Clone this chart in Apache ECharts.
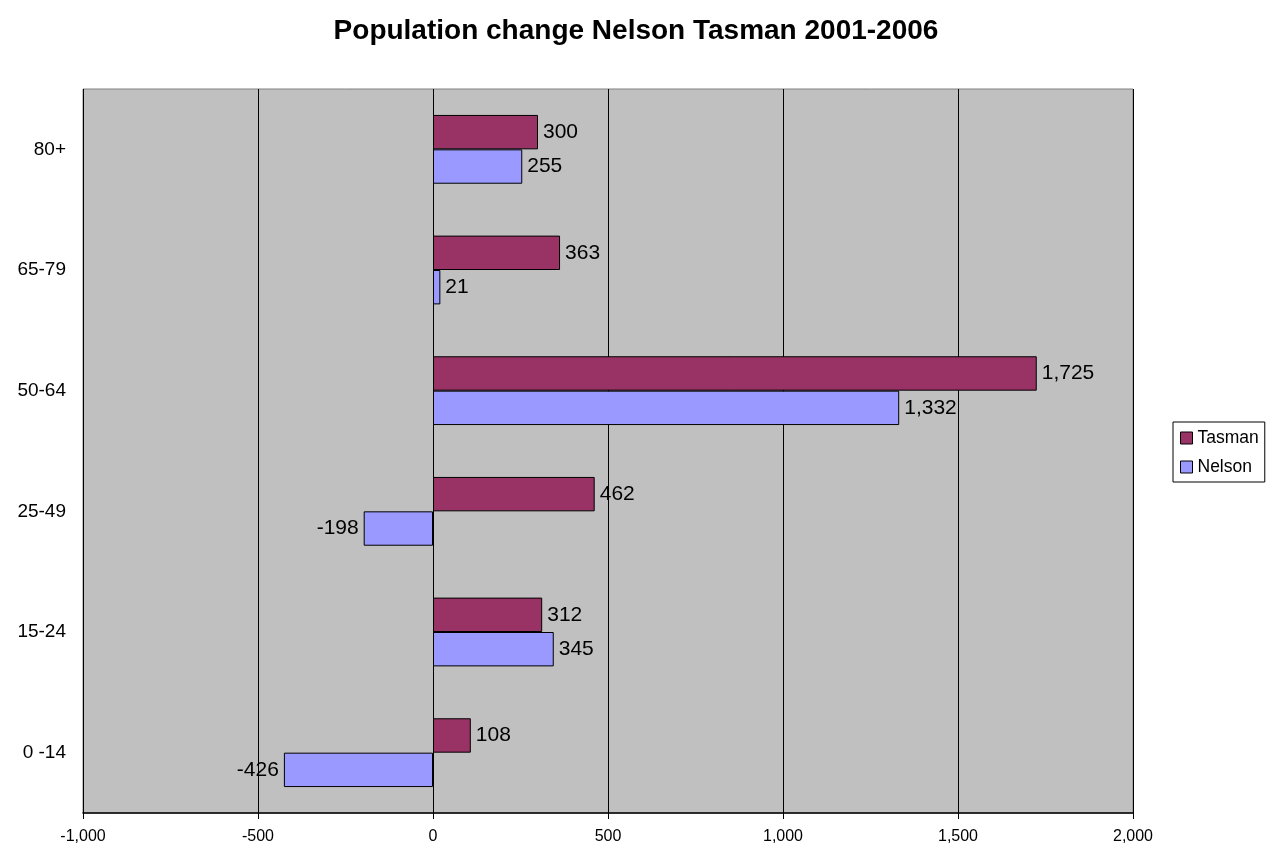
<!DOCTYPE html>
<html><head><meta charset="utf-8">
<script src="https://cdn.jsdelivr.net/npm/echarts@6/dist/echarts.min.js"></script>
<style>html,body{margin:0;padding:0;background:#fff}#c{width:1272px;height:851px}</style>
</head><body><div id="c"></div>
<script>
const categories = ['0 -14', '15-24', '25-49', '50-64', '65-79', '80+'];
const tasman = [108, 312, 462, 1725, 363, 300];
const nelson = [-426, 345, -198, 1332, 21, 255];
const xTicks = [-1000, -500, 0, 500, 1000, 1500, 2000];

const FONT = 'Liberation Sans, Arial, sans-serif';
const fmt = v => Number(v).toLocaleString('en-US');
const chart = echarts.init(document.getElementById('c'));
const labelCfg = {
  show: true,
  fontFamily: FONT,
  fontSize: 21,
  color: '#000',
  distance: 5,
  formatter: p => fmt(p.value)
};
function seriesData(arr) {
  return arr.map(v => ({ value: v, label: { position: v < 0 ? 'left' : 'right' } }));
}
chart.setOption({
  animation: false,
  textStyle: { fontFamily: FONT },
  title: {
    text: 'Population change Nelson Tasman 2001-2006',
    left: 'center', top: 12,
    textStyle: { fontSize: 28, fontWeight: 'bold', color: '#000', fontFamily: FONT }
  },
  legend: {
    data: ['Tasman', 'Nelson'],
    orient: 'vertical',
    left: 1173, top: 422,
    borderColor: '#000', borderWidth: 1,
    padding: [7, 6, 6, 7],
    itemWidth: 12, itemHeight: 12, itemGap: 11,
    icon: 'rect',
    itemStyle: { borderColor: '#000', borderWidth: 1 },
    textStyle: { fontSize: 17.5, color: '#000' }
  },
  grid: {
    left: 83, right: 139, top: 89, bottom: 38,
    show: true, backgroundColor: '#C0C0C0', borderColor: '#808080', borderWidth: 1
  },
  xAxis: {
    type: 'value', min: -1000, max: 2000, interval: 500,
    axisLine: { show: true, onZero: false, lineStyle: { color: '#000', width: 1.5 } },
    axisTick: { show: true, length: 6, lineStyle: { color: '#000' } },
    splitLine: { show: true, lineStyle: { color: '#000', width: 1 } },
    axisLabel: { fontSize: 16, color: '#000', margin: 16, formatter: v => xTicks.includes(v) ? fmt(v) : '' }
  },
  yAxis: {
    type: 'category', data: categories,
    axisLine: { show: false },
    axisTick: { show: false },
    axisLabel: { fontSize: 19, color: '#000', margin: 17 }
  },
  series: [
    {
      name: 'Tasman', type: 'bar', data: seriesData(tasman),
      itemStyle: { color: '#993366', borderColor: '#000', borderWidth: 1 },
      barGap: '0%', barCategoryGap: '43%',
      label: labelCfg
    },
    {
      name: 'Nelson', type: 'bar', data: seriesData(nelson),
      itemStyle: { color: '#9999FF', borderColor: '#000', borderWidth: 1 },
      barGap: '0%', barCategoryGap: '43%',
      label: labelCfg
    }
  ]
});
</script></body></html>
